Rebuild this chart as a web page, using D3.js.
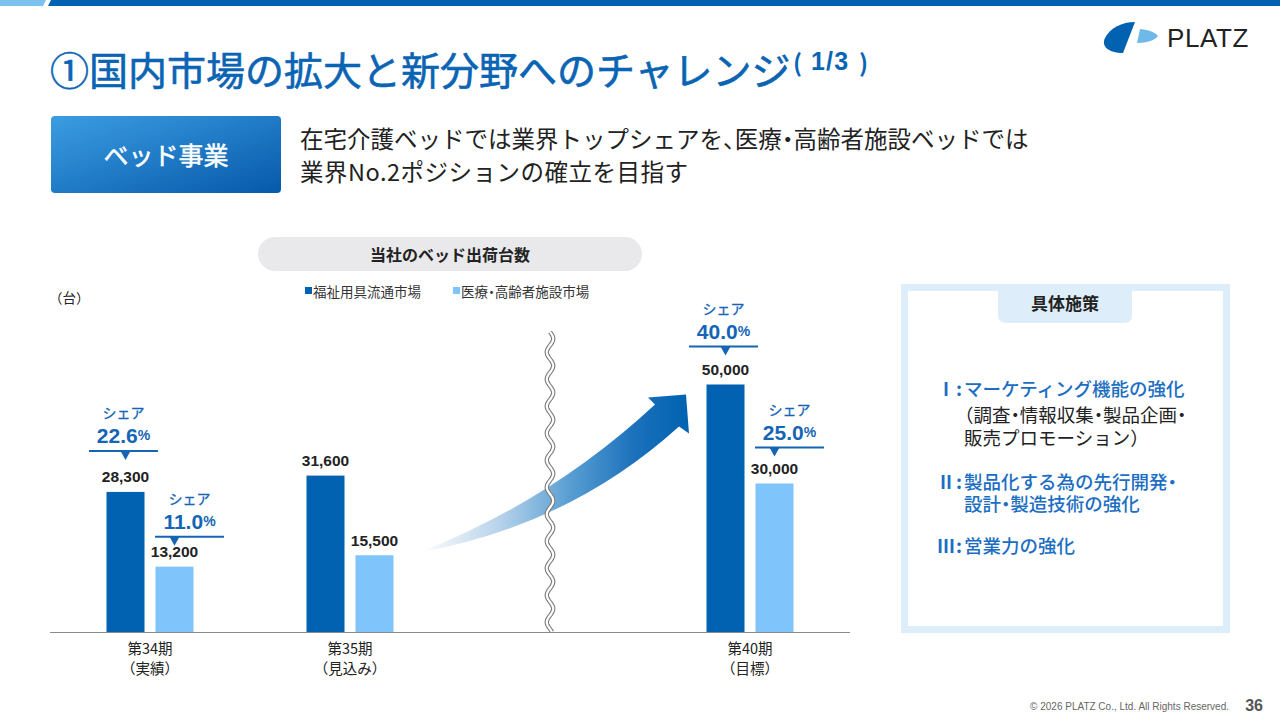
<!DOCTYPE html>
<html><head><meta charset="utf-8">
<script src="https://cdn.jsdelivr.net/npm/d3@7"></script>
<style>
html,body{margin:0;padding:0;background:#fff;}
svg{display:block;}
text{font-family:"Noto Sans CJK JP","Noto Sans",sans-serif;}
.lat{font-family:"Liberation Sans",Arial,sans-serif;}
.half{font-feature-settings:"halt";}
</style></head>
<body>
<svg id="c" width="1280" height="720"></svg>
<script>
// ---------- data ----------
const periods = ["第34期", "第35期", "第40期"];
const periodNotes = ["（実績）", "（見込み）", "（目標）"];
const seriesNames = ["福祉用具流通市場", "医療・高齢者施設市場"];
const welfareUnits = [28300, 31600, 50000];
const facilityUnits = [13200, 15500, 30000];
const welfareShare = [22.6, null, 40.0];
const facilityShare = [11.0, null, 25.0];
const unitLabel = "（台）";
const chartTitle = "当社のベッド出荷台数";
const pageTitle = "①国内市場の拡大と新分野へのチャレンジ";
const pageNo = ["(", "1/3", ")"];
const tagLabel = "ベッド事業";
const leadLines = ["在宅介護ベッドでは業界トップシェアを、医療・高齢者施設ベッドでは", "業界No.2ポジションの確立を目指す"];
const boxTitle = "具体施策";
const measureNums = ["Ⅰ", "Ⅱ", "Ⅲ"];
const measureLines = [
  [["マーケティング機能の強化", true], ["（調査・情報収集・製品企画・", false], ["販売プロモーション）", false]],
  [["製品化する為の先行開発・", true], ["設計・製造技術の強化", true]],
  [["営業力の強化", true]]
];
const footer = "© 2026 PLATZ Co., Ltd. All Rights Reserved.";
const pageNum = "36";

// ---------- helpers ----------
// writes a string into a text/tspan element, compressing CJK punctuation (・、) like the slide does
function jp(sel, str) {
  const parts = str.split(/([・、])/).filter(s => s.length);
  parts.forEach(p => {
    const t = sel.append("tspan").text(p);
    if (/^[・、]$/.test(p)) t.attr("class", "half");
  });
  return sel;
}

// ---------- styles ----------
const DARK = "#0062b0", LIGHT = "#7fc4fb", BLUE_TXT = "#1565b5";
const svg = d3.select("#c");
const defs = svg.append("defs");

// top band
svg.append("path").attr("d", "M0,0H46L43,6H0Z").attr("fill", "#7ec0ee");
svg.append("path").attr("d", "M51,0H1280V6H48Z").attr("fill", DARK);

// title
svg.append("text").attr("x", 50).attr("y", 68).attr("dominant-baseline", "central")
  .attr("font-size", 39).attr("font-weight", 400).attr("fill", "#0a64b4")
  .style("stroke", "#0a64b4").style("stroke-width", 0.6).text(pageTitle);
const pn = svg.append("text").attr("y", 61).attr("dominant-baseline", "central")
  .attr("font-weight", 700).attr("fill", "#0a64b4");
pn.append("tspan").attr("x", 793).attr("font-size", 24).text(pageNo[0]);
pn.append("tspan").attr("x", 811).attr("class", "lat").attr("font-size", 25).attr("letter-spacing", 1.2).text(pageNo[1]);
pn.append("tspan").attr("x", 859).attr("font-size", 24).text(pageNo[2]);

// logo
const logo = svg.append("g");
logo.append("path").attr("d", "M1135,22 L1123,53 C1108,53 1101,46 1105,38 C1110,28 1122,22 1135,22Z").attr("fill", DARK);
logo.append("path").attr("d", "M1140,29 C1150,30 1156,33 1158,36 C1155,40 1148,43 1137,43Z").attr("fill", "#6fb8ea");
logo.append("text").attr("x", 1167).attr("y", 38).attr("dominant-baseline", "central").attr("class", "lat")
  .attr("font-size", 26).attr("letter-spacing", 0.6).attr("fill", "#222").text("PLATZ");

// tag button
const bg = defs.append("linearGradient").attr("id", "btn").attr("x1", "0").attr("y1", "0").attr("x2", "1").attr("y2", "1");
bg.append("stop").attr("offset", "0").attr("stop-color", "#3b9de2");
bg.append("stop").attr("offset", "1").attr("stop-color", "#0659aa");
svg.append("rect").attr("x", 51).attr("y", 116).attr("width", 230).attr("height", 77).attr("rx", 4).attr("fill", "url(#btn)");
svg.append("text").attr("x", 166).attr("y", 154).attr("text-anchor", "middle").attr("dominant-baseline", "central")
  .attr("font-size", 25).attr("fill", "#fff").style("stroke", "#fff").style("stroke-width", 0.5).text(tagLabel);
const lead = svg.append("text").attr("font-size", 23.5).attr("fill", "#222").attr("dominant-baseline", "central");
leadLines.forEach((t, i) => jp(lead.append("tspan").attr("x", 300).attr("y", 138 + i * 33)
  .attr("letter-spacing", i ? 0.5 : 0), t));

// ---------- chart ----------
const slots = [periods[0], periods[1], "~", periods[2]];
const x0 = d3.scaleBand().domain(slots).range([50, 850]);
const x1 = d3.scaleBand().domain(seriesNames).range([0, 87]).paddingInner(0.224);
const y = d3.scaleLinear().domain([0, 50000]).range([632, 384.5]);
const gx = p => x0(p) + x0.bandwidth() / 2 - 43.5;

// chart title pill
svg.append("rect").attr("x", 258).attr("y", 237).attr("width", 384).attr("height", 34).attr("rx", 17).attr("fill", "#e9e9eb");
svg.append("text").attr("x", 450).attr("y", 254).attr("text-anchor", "middle").attr("dominant-baseline", "central")
  .attr("font-size", 16).attr("font-weight", 700).attr("fill", "#222").text(chartTitle);
svg.append("text").attr("x", 49).attr("y", 297).attr("dominant-baseline", "central")
  .attr("font-size", 13.5).attr("fill", "#222").text(unitLabel);

// legend
const legX = [305, 453];
seriesNames.forEach((n, i) => {
  svg.append("rect").attr("x", legX[i]).attr("y", 287).attr("width", 7).attr("height", 7).attr("fill", i ? LIGHT : DARK);
  jp(svg.append("text").attr("x", legX[i] + 8).attr("y", 290.5).attr("dominant-baseline", "central")
    .attr("font-size", 13.5).attr("fill", "#333"), n);
});

// arrow (decoration, anchored on scale positions)
const ag = defs.append("linearGradient").attr("id", "arr").attr("gradientUnits", "userSpaceOnUse")
  .attr("x1", 420).attr("y1", 0).attr("x2", 690).attr("y2", 0);
[[0, "#ffffff"], [0.3, "#b5d2ea"], [0.55, "#5a9fd3"], [0.8, "#1a70bb"], [1, DARK]].forEach(s =>
  ag.append("stop").attr("offset", s[0]).attr("stop-color", s[1]));
const tx = x0(periods[1]) + x0.bandwidth() / 2 + 70, ty = y(15500) - 3;
const hx = x0(periods[2]) + x0.bandwidth() / 2 - 64, hy = y(50000) + 10;
svg.append("path").attr("fill", "url(#arr)").attr("d",
  `M${tx},${ty} Q${tx + 132},${ty - 52} ${hx - 31},${hy + 10}` +
  ` L${hx - 38},${hy + 3} L${hx},${hy} L${hx + 3},${hy + 39} L${hx - 7},${hy + 32}` +
  ` Q${tx + 150},${ty - 27} ${tx},${ty}Z`);

// break mark
const bx = x0("~") + x0.bandwidth() / 2;
const wave = d3.range(0, 301, 1).map(d => [bx + 3.2 * Math.sin(d / 27 * 2 * Math.PI), 332 + d]);
const wl = d3.line();
svg.append("path").attr("d", wl(wave)).attr("fill", "none").attr("stroke", "#7a7a7a").attr("stroke-width", 4.4);
svg.append("path").attr("d", wl(wave)).attr("fill", "none").attr("stroke", "#fff").attr("stroke-width", 2.2);

// baseline
svg.append("line").attr("x1", 50).attr("x2", 850).attr("y1", 632.5).attr("y2", 632.5).attr("stroke", "#8a8a8a").attr("stroke-width", 1);

// bars
const rows = periods.map((p, i) => ({ p, vals: [welfareUnits[i], facilityUnits[i]], shares: [welfareShare[i], facilityShare[i]] }));
const groups = svg.selectAll("g.grp").data(rows).join("g").attr("class", "grp")
  .attr("transform", d => `translate(${gx(d.p)},0)`);
groups.selectAll("rect").data(d => d.vals.map((v, j) => ({ v, s: seriesNames[j], j })))
  .join("rect").attr("x", d => x1(d.s)).attr("width", x1.bandwidth())
  .attr("y", d => y(d.v)).attr("height", d => y(0) - y(d.v)).attr("fill", d => d.j ? LIGHT : DARK);
groups.selectAll("text.val").data(d => d.vals.map((v, j) => ({ v, s: seriesNames[j] })))
  .join("text").attr("class", "val lat").attr("x", d => x1(d.s) + x1.bandwidth() / 2).attr("y", d => y(d.v) - 15)
  .attr("text-anchor", "middle").attr("dominant-baseline", "central")
  .attr("font-weight", 700).attr("font-size", 15.5)
  .attr("fill", "#222").text(d => d3.format(",")(d.v));

// share callouts
const lift = { "第34期": [41, 30], "第40期": [38, 36] };
const shiftX = [-2, 15];
rows.forEach((r, i) => r.shares.forEach((s, j) => {
  if (s == null) return;
  const bcx = gx(r.p) + x1(seriesNames[j]) + x1.bandwidth() / 2;
  const cx = bcx + shiftX[j];
  const ly = y(r.vals[j]) - lift[r.p][j];
  const g = svg.append("g");
  g.append("line").attr("x1", cx - 34.5).attr("x2", cx + 34.5).attr("y1", ly).attr("y2", ly).attr("stroke", BLUE_TXT).attr("stroke-width", 2);
  g.append("path").attr("d", `M${bcx - 5},${ly} L${bcx + 5},${ly} L${bcx},${ly + 9}Z`).attr("fill", BLUE_TXT);
  g.append("text").attr("x", cx).attr("y", ly - 39).attr("text-anchor", "middle").attr("dominant-baseline", "central")
    .attr("font-size", 14).attr("fill", BLUE_TXT).style("stroke", BLUE_TXT).style("stroke-width", 0.3).text("シェア");
  const t = g.append("text").attr("x", cx).attr("y", ly - 16).attr("text-anchor", "middle").attr("dominant-baseline", "central")
    .attr("class", "lat").attr("font-weight", 700).attr("fill", BLUE_TXT);
  t.append("tspan").attr("font-size", 21).text(s.toFixed(1));
  t.append("tspan").attr("font-size", 14).text("%");
}));

// category labels
periods.forEach((p, i) => {
  const cx = x0(p) + x0.bandwidth() / 2;
  const t = svg.append("text").attr("text-anchor", "middle").attr("dominant-baseline", "central")
    .attr("font-size", 14.5).attr("fill", "#222");
  t.append("tspan").attr("x", cx).attr("y", 647).text(p);
  t.append("tspan").attr("x", cx).attr("y", 667).text(periodNotes[i]);
});

// ---------- measures box ----------
const BOX = "#ddedf9";
svg.append("rect").attr("x", 904.5).attr("y", 287.5).attr("width", 322).attr("height", 342).attr("fill", "#fff")
  .attr("stroke", BOX).attr("stroke-width", 7);
svg.append("path").attr("d", "M998,291 H1132 V315 Q1132,323 1124,323 H1006 Q998,323 998,315Z").attr("fill", BOX);
svg.append("text").attr("x", 1065).attr("y", 302).attr("text-anchor", "middle").attr("dominant-baseline", "central")
  .attr("font-size", 17).attr("font-weight", 700).attr("fill", "#222").text(boxTitle);
const lineY = [[388, 414, 437], [481, 503], [545]];
measureLines.forEach((lines, i) => {
  svg.append("text").attr("x", 955).attr("y", lineY[i][0]).attr("text-anchor", "end").attr("dominant-baseline", "central")
    .attr("font-size", 18).attr("font-weight", 700).attr("fill", "#1b6ec2").text(measureNums[i]);
  svg.append("text").attr("x", 956).attr("y", lineY[i][0]).attr("dominant-baseline", "central")
    .attr("font-size", 18.5).attr("font-weight", 700).attr("fill", "#1b6ec2").text(":");
  const t = svg.append("text").attr("font-size", 18.5).attr("dominant-baseline", "central");
  lines.forEach((l, k) => {
    const paren = l[0].startsWith("（");
    jp(t.append("tspan").attr("x", paren ? 955 : 964).attr("y", lineY[i][k])
      .attr("font-weight", l[1] ? 500 : 400).attr("fill", l[1] ? "#1b6ec2" : "#222"), l[0]);
  });
});

// footer
svg.append("text").attr("x", 1229).attr("y", 706).attr("text-anchor", "end").attr("dominant-baseline", "central")
  .attr("class", "lat").attr("font-size", 10).attr("fill", "#666").text(footer);
svg.append("text").attr("x", 1263).attr("y", 705).attr("text-anchor", "end").attr("dominant-baseline", "central")
  .attr("class", "lat").attr("font-weight", 700).attr("font-size", 16).attr("fill", "#555").text(pageNum);
</script>
</body></html>
